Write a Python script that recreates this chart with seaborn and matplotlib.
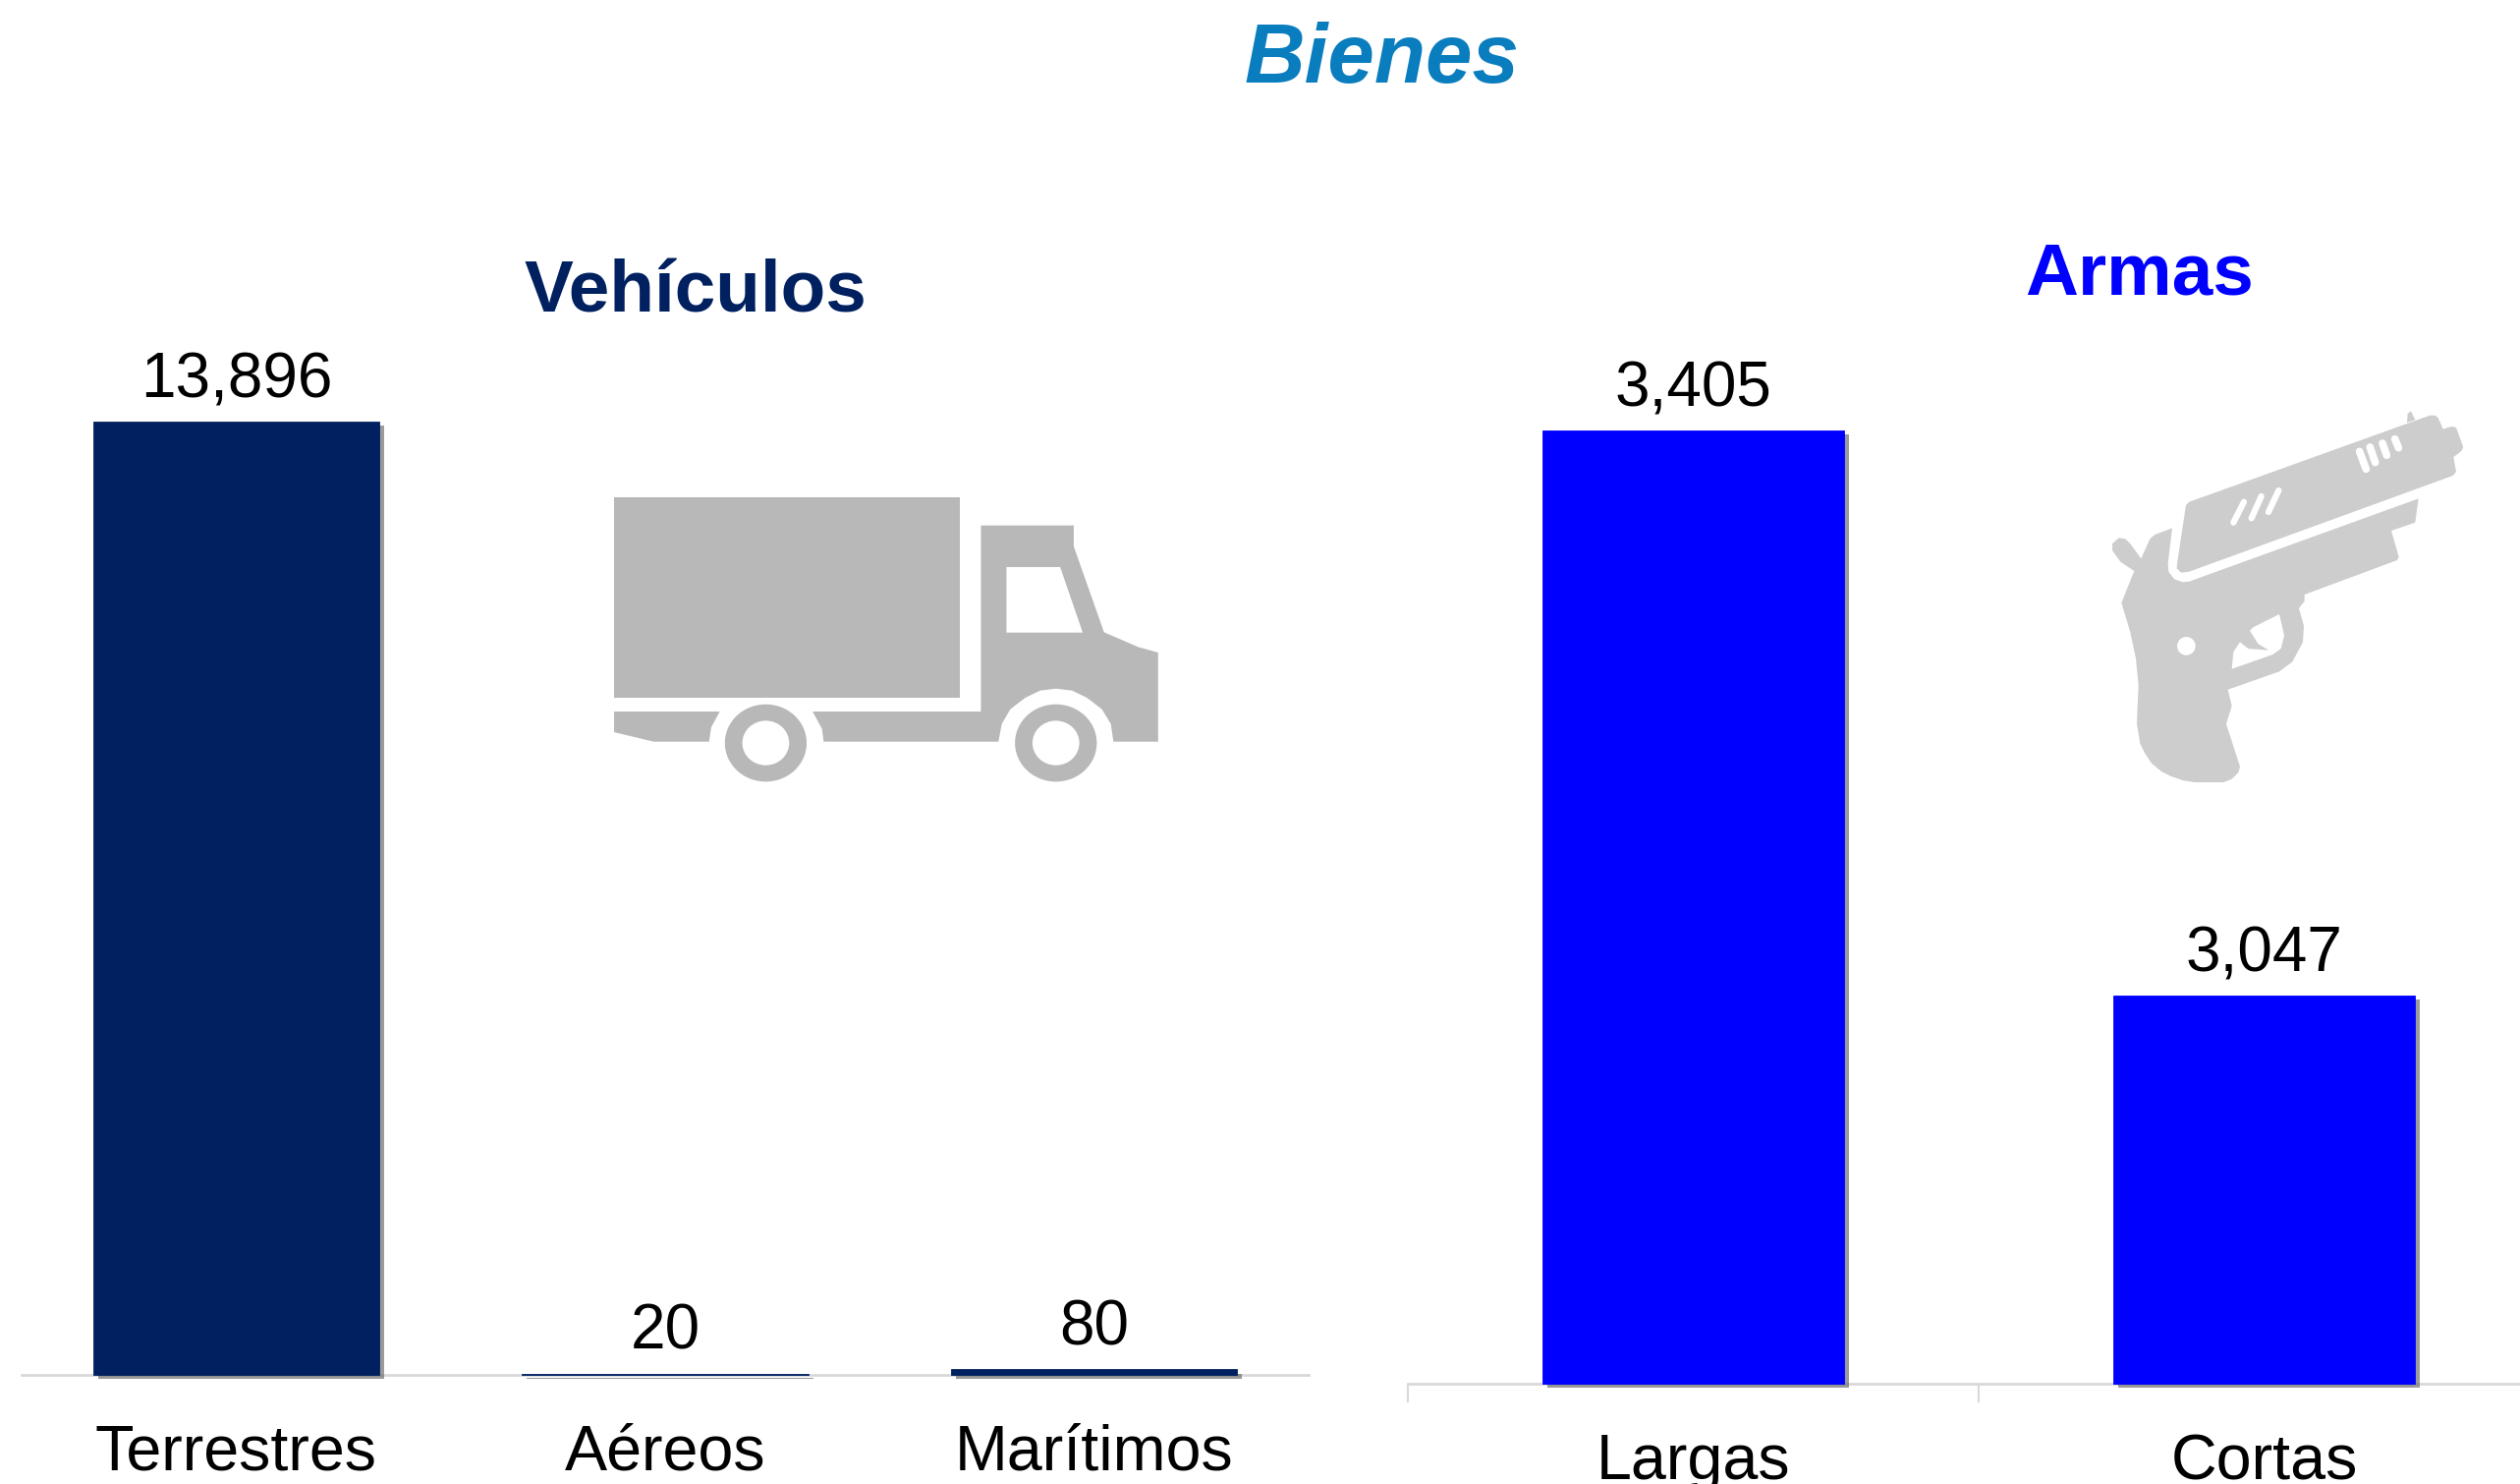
import matplotlib
matplotlib.use("Agg")
import matplotlib.pyplot as plt
import matplotlib.patheffects as pe
from matplotlib.patches import Ellipse, PathPatch, Polygon
from matplotlib.path import Path
from matplotlib.transforms import Bbox
import pandas as pd
import seaborn as sns

vehiculos_cat = ["Terrestres", "Aéreos", "Marítimos"]
vehiculos_val = [13896, 20, 80]
armas_cat = ["Largas", "Cortas"]
armas_val = [3405, 3047]
armas_base = 2801  # the axis in the original does not start at 0

NAVY = "#002060"
BLUE = "#0000FF"
GRID = "#D9D9D9"
W, H = 2565, 1510

sns.set_style("white")
plt.rcParams["font.family"] = ["Liberation Sans", "DejaVu Sans"]

fig = plt.figure(figsize = (W / 100, H / 100), dpi = 100, facecolor = "white")


def px_axes(x0, y0, x1, y1):
	return fig.add_axes([x0 / W, 1 - y1 / H, (x1 - x0) / W, (y1 - y0) / H])


def bar_panel(ax, cats, vals, color, width, ymin):
	df = pd.DataFrame({"cat": cats, "val": vals})
	sns.barplot(data = df, x = "cat", y = "val", color = color, width = width, saturation = 1, ax = ax)
	ax.set_xlim(-0.5, len(cats) - 0.5)
	ax.set_ylim(ymin, max(vals))
	ax.set_xlabel("")
	ax.set_ylabel("")
	ax.set_yticks([])
	sns.despine(ax = ax, left = True)
	ax.spines["bottom"].set_color(GRID)
	ax.spines["bottom"].set_linewidth(2)
	bb = ax.get_window_extent()
	clip = Bbox.from_extents(bb.x0, bb.y0 - 7, bb.x1 + 7, bb.y1 + 7)
	for b in ax.patches:
		# cut the bar at the axis floor so it can show its shadow below the axis
		top = b.get_y() + b.get_height()
		b.set_y(ymin)
		b.set_height(top - ymin)
		b.set_zorder(3)
		b.set_clip_box(clip)
		b.set_edgecolor(color)
		b.set_linewidth(0.6)
		b.set_path_effects([pe.withSimplePatchShadow(offset = (3.6, -3.2), shadow_rgbFace = "#666666", alpha = 0.65)])
	ax.bar_label(ax.containers[0], labels = [f"{v:,}" for v in vals], fontsize = 46, padding = 8.5, color = "black")


ax1 = px_axes(22, 429, 1332, 1399)
bar_panel(ax1, vehiculos_cat, vehiculos_val, NAVY, 0.667, 0)
ax1.tick_params(axis = "x", length = 0, pad = 36, labelsize = 46.5, labelcolor = "black")

ax2 = px_axes(1433, 438, 2595, 1408)
bar_panel(ax2, armas_cat, armas_val, BLUE, 0.527, armas_base)
ax2.tick_params(axis = "x", which = "major", length = 0, pad = 36, labelsize = 46.5, labelcolor = "black")
ax2.set_xticks([-0.5, 0.5, 1.5], minor = True)
ax2.tick_params(axis = "x", which = "minor", length = 13.5, width = 1.5, color = GRID, bottom = True)

fig.text(1407 / W, 1 - 62 / H, "Bienes", ha = "center", va = "center", fontsize = 61.5, fontweight = "bold", fontstyle = "italic", color = "#0A7DBE")
fig.text(708 / W, 1 - 317 / H, "Vehículos", ha = "center", va = "baseline", fontsize = 53.8, fontweight = "bold", color = NAVY)
fig.text(2178 / W, 1 - 300 / H, "Armas", ha = "center", va = "baseline", fontsize = 53.8, fontweight = "bold", color = BLUE)

# icons, drawn on an overlay in image pixels
icons = fig.add_axes([0, 0, 1, 1], facecolor = "none")
icons.set_xlim(0, W)
icons.set_ylim(H, 0)
icons.axis("off")


def compound(rings):
	verts, codes = [], []
	for r in rings:
		verts += list(r) + [r[0]]
		codes += [Path.MOVETO] + [Path.LINETO] * (len(r) - 1) + [Path.CLOSEPOLY]
	return Path(verts, codes)


TRUCK = "#B8B8B8"
tx = lambda x: 560 + x / 2.306
ty = lambda y: 460 + y / 3
tr = lambda pts: [(tx(x), ty(y)) for x, y in pts]

truck_box = [(150, 138), (962, 138), (962, 751), (150, 751)]
truck_cab = [(1011, 224), (1229, 224), (1229, 288), (1300, 550), (1380, 595), (1427, 612), (1427, 884), (1322, 884),
	(1316, 830), (1295, 785), (1260, 750), (1225, 728), (1187, 722), (1150, 728), (1115, 750), (1080, 785), (1060, 830), (1052, 884),
	(642, 884), (638, 845), (616, 792), (1011, 792)]
truck_win = [(1071, 551), (1250, 551), (1197, 351), (1071, 351)]
truck_rear = [(150, 792), (398, 792), (378, 840), (373, 884), (243, 884), (150, 855)]

icons.add_patch(Polygon(tr(truck_box), fc = TRUCK, ec = "none"))
icons.add_patch(Polygon(tr(truck_rear), fc = TRUCK, ec = "none"))
icons.add_patch(Polygon(tr(truck_cab), fc = TRUCK, ec = "none"))
icons.add_patch(Polygon(tr(truck_win), fc = "white", ec = "none"))
for wx in [506, 1187]:
	icons.add_patch(Ellipse((tx(wx), ty(888)), 192 / 2.306, 236 / 3, fc = TRUCK, ec = "none"))
	icons.add_patch(Ellipse((tx(wx), ty(888)), 110 / 2.306, 136 / 3, fc = "white", ec = "none"))

GUN = "#CDCDCD"
gp = lambda pts: [(2100 + x / 3, 390 + y / 3) for x, y in pts]

gun_slide = [(375, 372), (385, 362), (1120, 98), (1135, 98), (1145, 105), (1160, 140), (1185, 132), (1200, 135), (1222, 195),
	(1215, 208), (1192, 225), (1200, 270), (1190, 282), (385, 575), (360, 578), (347, 565), (348, 550)]
gun_sight = [(1050, 120), (1052, 92), (1062, 85), (1075, 112)]
gun_frame = [(333, 442), (280, 462), (265, 475), (238, 535), (205, 490), (190, 475), (170, 472), (150, 490), (150, 510), (175, 545),
	(217, 573), (178, 670), (205, 760), (222, 840), (230, 920), (225, 1040), (235, 1100), (250, 1130), (270, 1160), (300, 1185),
	(330, 1200), (365, 1212), (400, 1218), (490, 1218), (515, 1208), (535, 1188), (540, 1170), (498, 1040), (515, 985), (503, 935),
	(660, 880), (700, 850), (732, 790), (735, 740), (720, 687), (737, 665), (737, 645), (1020, 540), (1025, 530), (1002, 450),
	(1075, 425), (1085, 352), (385, 605), (365, 607), (340, 598), (322, 575), (320, 550)]
gun_guard = [(580, 745), (660, 705), (675, 770), (665, 810), (640, 828), (515, 872), (520, 820), (540, 790), (565, 810), (628, 815),
	(595, 795), (570, 755)]
gun_slots = [[(520, 425), (552, 362)], [(575, 412), (605, 345)], [(627, 393), (658, 327)],
	[(925, 262), (905, 208)], [(953, 242), (937, 195)], [(988, 220), (975, 183)], [(1024, 197), (1013, 170)]]

icons.add_patch(Polygon(gp(gun_slide), fc = GUN, ec = "none"))
icons.add_patch(Polygon(gp(gun_sight), fc = GUN, ec = "none"))
icons.add_patch(PathPatch(compound([gp(gun_frame), gp(gun_guard)]), fc = GUN, ec = "none"))
icons.add_patch(Ellipse(gp([(376, 802)])[0], 56 / 3, 56 / 3, fc = "white", ec = "none"))
for i, s in enumerate(gun_slots):
	xs, ys = zip(*gp(s))
	icons.plot(xs, ys, color = "white", lw = 4.5 if i < 3 else 5.5, solid_capstyle = "round")

fig.savefig("out.png", dpi = 100)
